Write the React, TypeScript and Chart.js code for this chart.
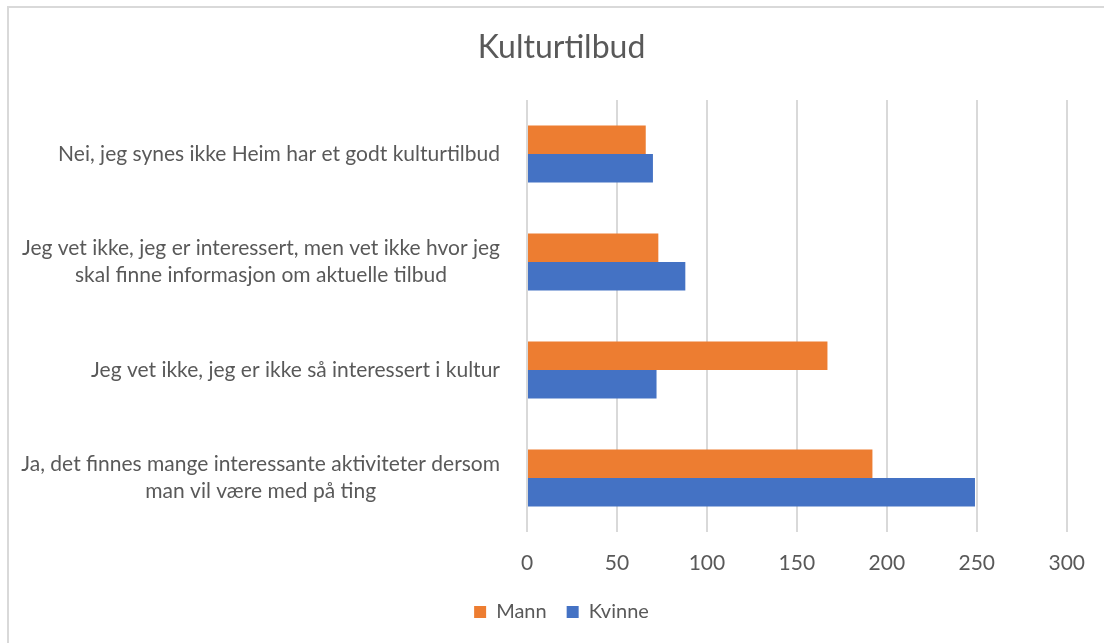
import React, { useEffect, useRef } from "react";
import { Chart, registerables } from "chart.js";

Chart.register(...registerables);

const TITLE = "Kulturtilbud";
const categories: string[][] = [
  ["Nei, jeg synes ikke Heim har et godt kulturtilbud"],
  ["Jeg vet ikke, jeg er interessert, men vet ikke hvor jeg", "skal finne informasjon om aktuelle tilbud"],
  ["Jeg vet ikke, jeg er ikke så interessert i kultur"],
  ["Ja, det finnes mange interessante aktiviteter dersom", "man vil være med på ting"],
];
const mann = [66, 73, 167, 192];
const kvinne = [70, 88, 72, 249];
const seriesNames = ["Mann", "Kvinne"];
const xMin = 0;
const xMax = 300;
const xStep = 50;

const FONT = "Lato, 'Open Sans', sans-serif";
const TEXT = "#595959";
const GRID = "#d9d9d9";
const ORANGE = "#ED7D31";
const BLUE = "#4472C4";
const LABEL_SIZE = 21;
const LABEL_LINE = 27;

const yLabelPlugin = {
  id: "yLabelsCentered",
  afterDraw(chart: any) {
    const scale = chart.scales.y;
    const ctx = chart.ctx;
    ctx.save();
    ctx.font = `${LABEL_SIZE}px ${FONT}`;
    ctx.fillStyle = TEXT;
    ctx.textAlign = "center";
    ctx.textBaseline = "middle";
    const right = chart.chartArea.left - 27;
    categories.forEach((lines, i) => {
      const y = scale.getPixelForTick(i);
      const w = Math.max(...lines.map((l) => ctx.measureText(l).width));
      const cx = right - w / 2;
      lines.forEach((l, j) => {
        ctx.fillText(l, cx, y + (j - (lines.length - 1) / 2) * LABEL_LINE);
      });
    });
    ctx.restore();
  },
};

export default function App() {
  const ref = useRef<HTMLCanvasElement | null>(null);

  useEffect(() => {
    if (!ref.current) return;
    const chart = new Chart(ref.current, {
      type: "bar",
      data: {
        labels: categories,
        datasets: [
          {
            label: seriesNames[0],
            data: mann,
            backgroundColor: ORANGE,
            categoryPercentage: 0.527,
            barPercentage: 1.0,
          },
          {
            label: seriesNames[1],
            data: kvinne,
            backgroundColor: BLUE,
            categoryPercentage: 0.527,
            barPercentage: 1.0,
          },
        ],
      },
      options: {
        indexAxis: "y",
        responsive: false,
        animation: false,
        layout: { padding: { left: 52, right: 33, top: 0, bottom: 11 } },
        scales: {
          x: {
            min: xMin,
            max: xMax,
            ticks: {
              stepSize: xStep,
              color: TEXT,
              font: { family: FONT, size: 21 },
              padding: 19,
            },
            grid: { color: GRID, lineWidth: 2, drawTicks: false },
            border: { display: false },
            afterFit: (s: any) => {
              s.height = 50;
            },
          },
          y: {
            ticks: { display: false },
            grid: { display: false },
            border: { display: false },
            afterFit: (s: any) => {
              s.width = 475;
            },
          },
        },
        plugins: {
          title: {
            display: true,
            text: TITLE,
            color: TEXT,
            font: { family: FONT, size: 32, weight: "normal" },
            padding: { top: 28, bottom: 33.6 },
          },
          legend: {
            display: true,
            position: "bottom",
            labels: {
              color: TEXT,
              font: { family: FONT, size: 20 },
              boxWidth: 12,
              boxHeight: 12,
              padding: 20,
            },
          },
          tooltip: { enabled: false },
        },
      },
      plugins: [yLabelPlugin],
    });
    return () => chart.destroy();
  }, []);

  return (
    <div style={{ position: "fixed", left: 0, top: 0, width: 1104, height: 643, background: "#fff", overflow: "hidden" }}>
      <div
        style={{
          position: "absolute",
          left: 7,
          top: 6,
          width: 1200,
          height: 800,
          borderLeft: `2px solid ${GRID}`,
          borderTop: `2px solid ${GRID}`,
        }}
      />
      <canvas ref={ref} width={1104} height={643} style={{ position: "absolute", left: 0, top: 0, display: "block" }} />
    </div>
  );
}
